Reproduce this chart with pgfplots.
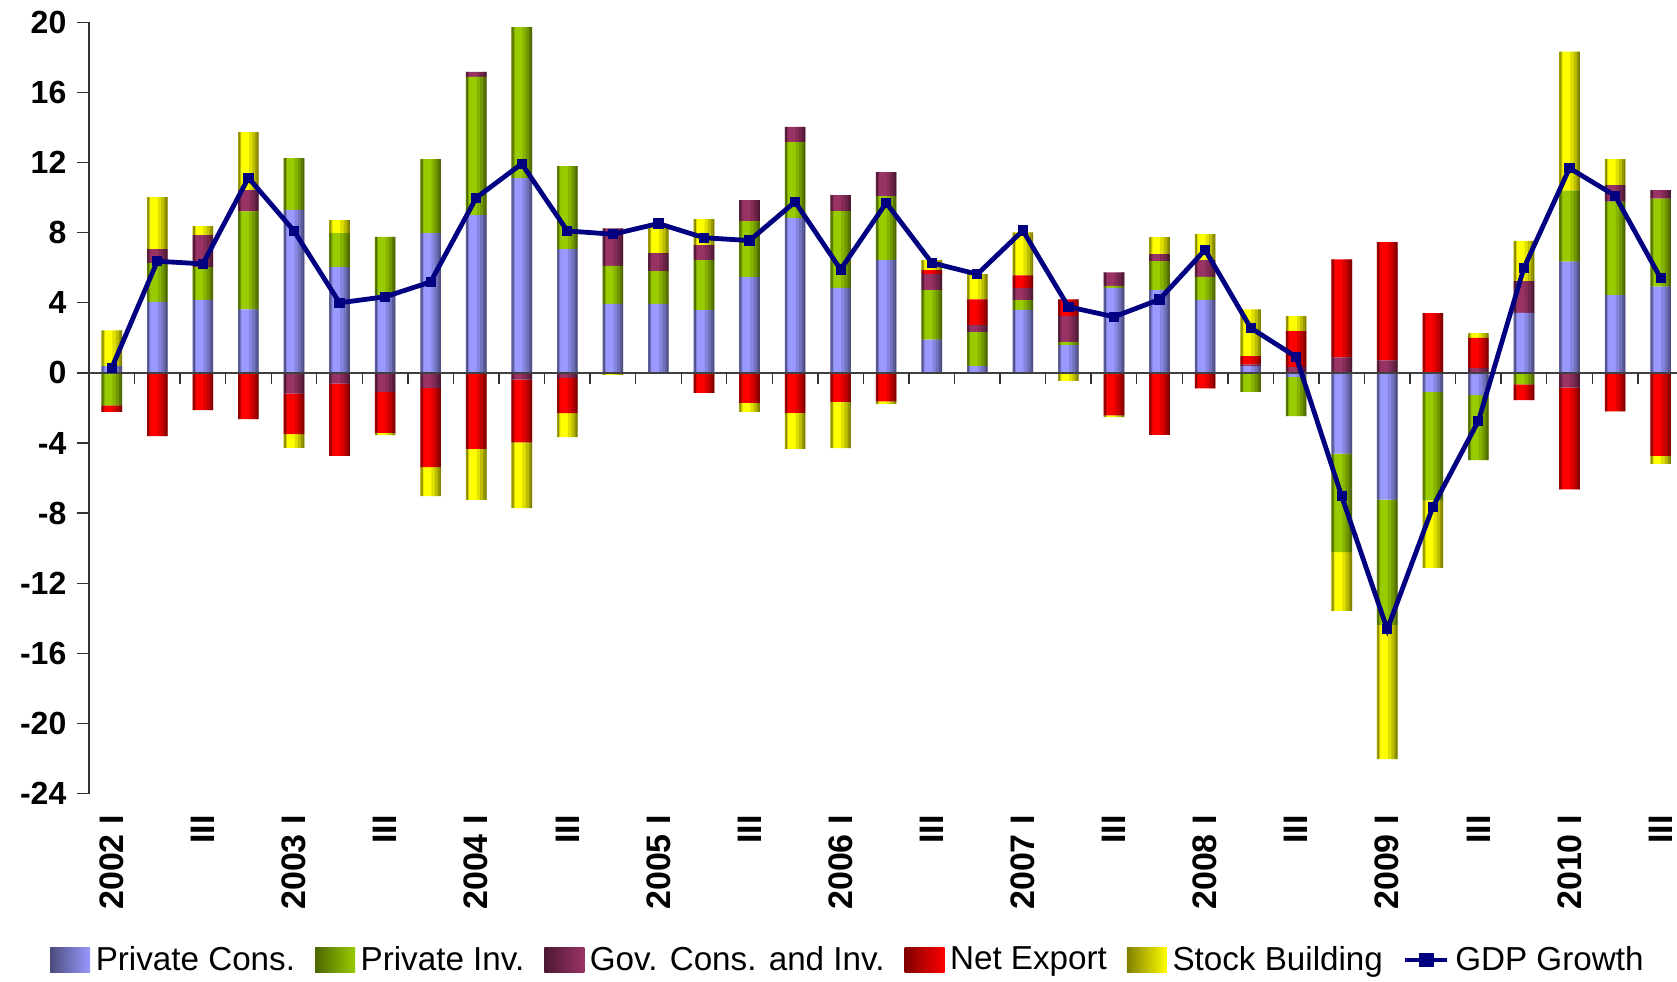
\documentclass[border=0pt]{standalone}
\usepackage{pgfplots}
\pgfplotsset{compat=1.18}
\usepackage{pgfplotstable}
\usepackage{fontspec}
\setmainfont{Liberation Sans}

\definecolor{pcC}{HTML}{9999FF}
\definecolor{piC}{HTML}{99CC00}
\definecolor{goC}{HTML}{993366}
\definecolor{nxC}{HTML}{FF0000}
\definecolor{sbC}{HTML}{FFFF00}
\definecolor{gdpC}{HTML}{000080}

\pgfdeclarehorizontalshading{pcL}{100bp}{color(0bp)=(pcC!50!black); color(25bp)=(pcC!50!black); color(75bp)=(pcC); color(100bp)=(pcC)}
\pgfdeclarehorizontalshading{piL}{100bp}{color(0bp)=(piC!50!black); color(25bp)=(piC!50!black); color(75bp)=(piC); color(100bp)=(piC)}
\pgfdeclarehorizontalshading{goL}{100bp}{color(0bp)=(goC!50!black); color(25bp)=(goC!50!black); color(75bp)=(goC); color(100bp)=(goC)}
\pgfdeclarehorizontalshading{nxL}{100bp}{color(0bp)=(nxC!50!black); color(25bp)=(nxC!50!black); color(75bp)=(nxC); color(100bp)=(nxC)}
\pgfdeclarehorizontalshading{sbL}{100bp}{color(0bp)=(sbC!50!black); color(25bp)=(sbC!50!black); color(75bp)=(sbC); color(100bp)=(sbC)}

% positive parts (x, Private Cons., Private Inv., Gov., Net Export, Stock Building)
\pgfplotstableread{
x pc pi go nx sb
0 0.38 0 0 0 2.05
1 4.05 2.21 0.80 0 2.97
2 4.17 1.86 1.83 0 0.51
3 3.63 5.59 1.20 0 3.31
4 9.30 2.95 0 0 0
5 6.03 1.94 0 0 0.74
6 4.45 3.31 0 0 0
7 7.97 4.22 0 0 0
8 9.00 7.88 0.29 0 0
9 11.13 8.60 0 0 0
10 7.06 4.74 0 0 0
11 3.94 2.17 2.13 0 0
12 3.94 1.86 1.03 0 1.67
13 3.58 2.85 0.86 0 1.48
14 5.46 3.20 1.20 0 0
15 8.85 4.32 0.86 0 0
16 4.85 4.38 0.91 0 0
17 6.43 3.65 1.37 0 0
18 1.90 2.82 0.91 0.23 0.57
19 0.38 1.94 0.40 1.48 1.43
20 3.60 0.55 0.70 0.72 2.45
21 1.58 0.17 1.50 0.95 0
22 4.85 0.11 0.78 0 0
23 4.72 1.66 0.40 0 0.97
24 4.17 1.31 0.95 0 1.48
25 0.38 0 0.11 0.46 2.68
26 0 0 0.34 2.04 0.86
27 0 0 0.89 5.59 0
28 0 0 0.72 6.74 0
29 0 0 0 3.41 0
30 0 0 0.29 1.71 0.27
31 3.42 0 1.81 0 2.30
32 6.35 4.05 0 0 7.93
33 4.43 5.34 0.94 0 1.48
34 4.92 5.02 0.49 0 0
}\postable

% negative parts
\pgfplotstableread{
x pc pi go nx sb
0 0 -1.85 0 -0.38 0
1 0 0 0 -3.60 0
2 0 0 0 -2.13 0
3 0 0 0 -2.64 0
4 0 0 -1.18 -2.32 -0.78
5 0 0 -0.61 -4.13 0
6 0 0 -1.08 -2.34 -0.13
7 0 0 -0.86 -4.51 -1.66
8 0 0 0 -4.34 -2.91
9 0 0 -0.38 -3.58 -3.75
10 0 0 -0.29 -2.00 -1.37
11 0 0 0 0 -0.11
12 0 0 0 0 0
13 0 0 0 -1.14 0
14 0 0 0 -1.71 -0.51
15 0 0 0 -2.28 -2.05
16 0 0 0 -1.66 -2.63
17 0 0 0 -1.62 -0.15
18 0 0 0 0 0
19 0 0 0 0 0
20 0 0 0 0 0
21 0 0 0 0 -0.46
22 0 0 0 -2.42 -0.10
23 0 0 0 -3.54 0
24 0 0 0 -0.89 0
25 0 -1.08 0 0 0
26 -0.23 -2.23 0 0 0
27 -4.60 -5.63 0 0 -3.35
28 -7.23 -7.15 0 0 -7.65
29 -1.08 -6.19 0 0 -3.86
30 -1.27 -3.71 0 0 0
31 0 -0.65 0 -0.91 0
32 0 0 -0.84 -5.80 0
33 0 0 0 -2.19 0
34 0 0 0 -4.73 -0.46
}\negtable

% totals of the positive and negative parts (for the cylinder shading overlay)
\pgfplotstableread{
x tp tn
0 2.43 -2.23
1 10.03 -3.60
2 8.37 -2.13
3 13.73 -2.64
4 12.25 -4.28
5 8.71 -4.74
6 7.76 -3.55
7 12.19 -7.03
8 17.17 -7.25
9 19.73 -7.71
10 11.80 -3.66
11 8.24 -0.11
12 8.50 0
13 8.77 -1.14
14 9.86 -2.22
15 14.03 -4.33
16 10.14 -4.29
17 11.45 -1.77
18 6.43 0
19 5.63 0
20 8.02 0
21 4.20 -0.46
22 5.74 -2.52
23 7.75 -3.54
24 7.91 -0.89
25 3.63 -1.08
26 3.24 -2.46
27 6.48 -13.58
28 7.46 -22.03
29 3.41 -11.13
30 2.27 -4.98
31 7.53 -1.56
32 18.33 -6.64
33 12.19 -2.19
34 10.43 -5.19
}\tottable

\pgfplotstableread{
x gdp
0 0.29
1 6.37
2 6.22
3 11.13
4 8.10
5 4.00
6 4.34
7 5.19
8 9.99
9 11.93
10 8.10
11 7.91
12 8.52
13 7.71
14 7.55
15 9.76
16 5.90
17 9.70
18 6.28
19 5.63
20 8.12
21 3.77
22 3.20
23 4.19
24 7.02
25 2.57
26 0.91
27 -7.04
28 -14.63
29 -7.65
30 -2.74
31 5.99
32 11.68
33 10.11
34 5.41
}\gdptable

\pgfplotsset{
  base/.style={
    at={(44.5pt,-11.15pt)}, anchor=north west,
    scale only axis, width=794pt, height=385.65pt,
    xmin=-0.5, xmax=34.36, ymin=-24, ymax=20,
  },
  barleg/.style={legend image code/.code={\path[##1] (0pt,-6.2pt) rectangle (20pt,6.2pt);}},
  gdpleg/.style={legend image code/.code={\draw[##1, mark=none] (0pt,0pt) -- (21pt,0pt); \fill[gdpC] (7.8pt,-2.4pt) rectangle (13.2pt,2.4pt);}},
  strip/.style n args={3}{ybar, bar width=#1, bar shift=#2, fill=black, fill opacity=#3, draw=none},
}

\begin{document}
\begin{tikzpicture}
\useasboundingbox (0pt,0pt) rectangle (838.5pt,-490.5pt);

% positive stacks + axes
\begin{axis}[base,
  ybar stacked, bar width=10.3pt,
  axis y line*=left, axis x line*=bottom,
  x axis line style={draw=none}, y axis line style={-, black!80, line width=0.7pt},
  ytick={-24,-20,...,20}, ytick pos=left,
  tick align=outside, major tick length=5.8pt,
  ytick style={black!80, line width=0.7pt},
  xtick={0,2,...,34},
  xtick style={draw=none},
  xticklabels={2002 I,III,2003 I,III,2004 I,III,2005 I,III,2006 I,III,2007 I,III,2008 I,III,2009 I,III,2010 I,III},
  xticklabel style={rotate=90, anchor=east, font=\bfseries\fontsize{17}{18}\selectfont},
  yticklabel style={font=\bfseries\fontsize{16}{17}\selectfont},
  /pgf/number format/assume math mode=true,
  xticklabel shift=1.5pt,
  yticklabel shift=2pt,
]
\addplot[fill=pcC, draw=none] table[x=x, y=pc] {\postable};
\addplot[fill=piC, draw=none] table[x=x, y=pi] {\postable};
\addplot[fill=goC, draw=none] table[x=x, y=go] {\postable};
\addplot[fill=nxC, draw=none] table[x=x, y=nx] {\postable};
\addplot[fill=sbC, draw=none] table[x=x, y=sb] {\postable};
\end{axis}

% negative stacks
\begin{axis}[base, hide axis,
  ybar stacked, bar width=10.3pt,
]
\addplot[fill=pcC, draw=none] table[x=x, y=pc] {\negtable};
\addplot[fill=piC, draw=none] table[x=x, y=pi] {\negtable};
\addplot[fill=goC, draw=none] table[x=x, y=go] {\negtable};
\addplot[fill=nxC, draw=none] table[x=x, y=nx] {\negtable};
\addplot[fill=sbC, draw=none] table[x=x, y=sb] {\negtable};
\end{axis}

% darker edges of the cylinder-like bars
\begin{axis}[base, hide axis]
\addplot[strip={1.1pt}{-4.6pt}{0.38}] table[x=x, y=tp] {\tottable};
\addplot[strip={1.1pt}{-4.6pt}{0.38}] table[x=x, y=tn] {\tottable};
\addplot[strip={1.0pt}{-4.0pt}{0.15}] table[x=x, y=tp] {\tottable};
\addplot[strip={1.0pt}{-4.0pt}{0.15}] table[x=x, y=tn] {\tottable};
\addplot[strip={4.85pt}{2.725pt}{0.12}] table[x=x, y=tp] {\tottable};
\addplot[strip={4.85pt}{2.725pt}{0.12}] table[x=x, y=tn] {\tottable};
\addplot[strip={3.15pt}{3.575pt}{0.15}] table[x=x, y=tp] {\tottable};
\addplot[strip={3.15pt}{3.575pt}{0.15}] table[x=x, y=tn] {\tottable};
\addplot[strip={1.65pt}{4.325pt}{0.2}] table[x=x, y=tp] {\tottable};
\addplot[strip={1.65pt}{4.325pt}{0.2}] table[x=x, y=tn] {\tottable};
\addplot[strip={0.7pt}{4.8pt}{0.15}] table[x=x, y=tp] {\tottable};
\addplot[strip={0.7pt}{4.8pt}{0.15}] table[x=x, y=tn] {\tottable};
\end{axis}

% zero line, category ticks, GDP line, legend
\begin{axis}[base, hide axis, clip=false,
  legend columns=6,
  legend style={at={(0.4785,-0.2157)}, anchor=center, draw=none, fill=none,
    font=\fontsize{16.6}{18}\selectfont,
    /tikz/every even column/.append style={column sep=8pt},
    /tikz/every odd column/.append style={column sep=0.8pt}},
]
\draw[black!75, line width=0.9pt] (axis cs:-0.5,0) -- (axis cs:34.36,0);
\pgfplotsinvokeforeach{0,...,33}{
  \draw[black!80, line width=0.7pt] (axis cs:#1.5,0) -- ++(0pt,-5.7pt);
}
\addlegendimage{barleg, draw=none, shade, shading=pcL}
\addlegendentry{Private Cons.}
\addlegendimage{barleg, draw=none, shade, shading=piL}
\addlegendentry{Private Inv.}
\addlegendimage{barleg, draw=none, shade, shading=goL}
\addlegendentry{Gov. Cons. and Inv.}
\addlegendimage{barleg, draw=none, shade, shading=nxL}
\addlegendentry{Net Export}
\addlegendimage{barleg, draw=none, shade, shading=sbL}
\addlegendentry{Stock Building}
\addplot[gdpleg, gdpC, line width=2.4pt, mark=square*, mark size=2.3pt,
  mark options={solid, fill=gdpC, line width=0.5pt}] table[x=x, y=gdp] {\gdptable};
\addlegendentry{GDP Growth}
\end{axis}
\end{tikzpicture}
\end{document}
